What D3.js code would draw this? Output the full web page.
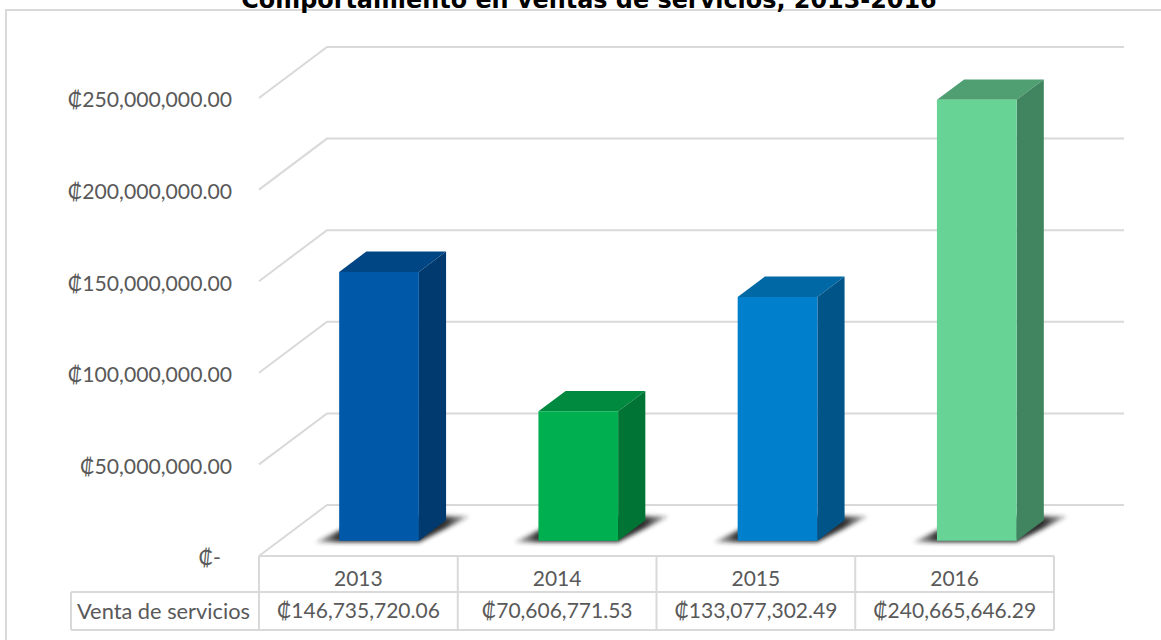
<!DOCTYPE html>
<html>
<head>
<meta charset="utf-8">
<script src="https://cdn.jsdelivr.net/npm/d3@7"></script>
<style>
  body { margin: 0; background: #fff; }
  svg { display: block; }
  text { font-family: Lato, "Noto Sans", sans-serif; fill: #595959; }
</style>
</head>
<body>
<svg width="1161" height="640"></svg>
<script>
const years = ['2013', '2014', '2015', '2016']
const sales = [146735720.06, 70606771.53, 133077302.49, 240665646.29]
const yTicks = [0, 50000000, 100000000, 150000000, 200000000, 250000000]
const seriesName = 'Venta de servicios'
const title = 'Comportamiento en ventas de servicios, 2013-2016'

const frontColors = ['#0058a9', '#00b050', '#0080cc', '#67d495']
const sideColors = ['#003a6e', '#007434', '#005487', '#418560']
const topColors = ['#004685', '#008a3f', '#0068a5', '#4f9f72']

const width = 1161
const height = 640
const gridColor = '#d9d9d9'

// depth of the 3d floor, in px
const depth = { x: 68, y: 51 }
const barDepth = { from: 0.3, to: 0.7 }

const xScale = d3.scaleBand()
  .domain(years)
  .range([259, 1056])
  .paddingInner(0.6)
  .paddingOuter(0.3)

const yScale = d3.scaleLinear()
  .domain([0, 250000000])
  .range([556, 98])

// table columns use the whole band
const colScale = d3.scaleBand()
  .domain(years)
  .range([259, 1054])

// x in px at the front, value on y, z from 0 (front) to 1 (back)
const project = (x, value, z) => [x + depth.x * z, yScale(value) - depth.y * z]

const svg = d3.select('svg')
const line = d3.line()

const defs = svg.append('defs')
defs.append('filter')
  .attr('id', 'soft')
  .attr('x', '-20%').attr('y', '-40%')
  .attr('width', '140%').attr('height', '180%')
  .append('feGaussianBlur')
  .attr('stdDeviation', 2.2)

// shadow fades out towards both tips
const shade = defs.append('linearGradient')
  .attr('id', 'shade')
shade.selectAll('stop')
  .data([[0, 0.25], [0.16, 0.95], [0.84, 0.95], [1, 0.25]])
  .enter().append('stop')
  .attr('offset', d => d[0])
  .attr('stop-color', '#222')
  .attr('stop-opacity', d => d[1])

// chart frame, no right or bottom side in the picture
svg.append('path')
  .attr('d', line([[6, height], [6, 10], [width, 10]]))
  .attr('fill', 'none')
  .attr('stroke', gridColor)
  .attr('stroke-width', 2)

svg.append('text')
  .attr('x', 589)
  .attr('y', 8)
  .attr('text-anchor', 'middle')
  .style('font-family', '"DejaVu Sans"')
  .style('font-weight', 'bold')
  .style('font-size', '23.9px')
  .style('fill', '#000')
  .text(title)

// gridlines go from the front left, up the side wall, then along the back
svg.append('g')
  .selectAll('path')
  .data(yTicks)
  .enter().append('path')
  .attr('d', d => line([
    project(259, d, 0),
    project(259, d, 1),
    project(1056, d, 1)
  ]))
  .attr('fill', 'none')
  .attr('stroke', gridColor)
  .attr('stroke-width', 2)

const yAxis = d3.axisLeft(yScale)
  .tickValues(yTicks)
  .tickSize(0)
  .tickPadding(0)
  .tickFormat(d => d === 0 ? '₡-' : '₡' + d3.format(',.2f')(d))

const yAxisG = svg.append('g')
  .attr('transform', 'translate(232,0)')
  .call(yAxis)

yAxisG.select('.domain').remove()
yAxisG.selectAll('text')
  .attr('dy', '0.42em')
  .style('font-family', 'Lato, "Noto Sans", sans-serif')
  .style('font-size', '21.2px')
  .style('fill', '#595959')
yAxisG.selectAll('.tick')
  .filter(d => d === 0)
  .select('text')
  .attr('dx', -11)

// bars
const bars = svg.append('g')
  .selectAll('g')
  .data(years.map((year, i) => ({ year, value: sales[i], i })))
  .enter().append('g')

const edges = d => {
  const x0 = xScale(d.year)
  return { x0, x1: x0 + xScale.bandwidth() }
}

bars.append('path')
  .attr('d', d => {
    const { x0, x1 } = edges(d)
    return line([
      project(x0 - 22, 0, barDepth.from - 0.03),
      project(x1 + 2, 0, barDepth.from - 0.03),
      project(x1 + 18, 0, barDepth.to + 0.08),
      project(x0 - 3, 0, barDepth.to + 0.08)
    ]) + 'Z'
  })
  .attr('fill', 'url(#shade)')
  .attr('filter', 'url(#soft)')

bars.append('path')
  .attr('d', d => {
    const { x0, x1 } = edges(d)
    return line([
      project(x0, d.value, barDepth.from),
      project(x1, d.value, barDepth.from),
      project(x1, d.value, barDepth.to),
      project(x0, d.value, barDepth.to)
    ]) + 'Z'
  })
  .attr('fill', d => topColors[d.i])

bars.append('path')
  .attr('d', d => {
    const { x1 } = edges(d)
    return line([
      project(x1, 0, barDepth.from),
      project(x1, 0, barDepth.to),
      project(x1, d.value, barDepth.to),
      project(x1, d.value, barDepth.from)
    ]) + 'Z'
  })
  .attr('fill', d => sideColors[d.i])

bars.append('path')
  .attr('d', d => {
    const { x0, x1 } = edges(d)
    return line([
      project(x0, 0, barDepth.from),
      project(x1, 0, barDepth.from),
      project(x1, d.value, barDepth.from),
      project(x0, d.value, barDepth.from)
    ]) + 'Z'
  })
  .attr('fill', d => frontColors[d.i])

// data table under the chart
const tableTop = yScale(0)
const rowLine = 592
const tableBottom = 630
const tableLeft = 71

const table = svg.append('g')
  .attr('stroke', gridColor)
  .attr('stroke-width', 2)
  .attr('fill', 'none')

table.append('path')
  .attr('d', line([[259, tableTop], [1054, tableTop]]))
table.append('path')
  .attr('d', line([[tableLeft, rowLine], [1054, rowLine]]))
table.append('path')
  .attr('d', line([[tableLeft, tableBottom], [1054, tableBottom]]))
table.append('path')
  .attr('d', line([[tableLeft, rowLine], [tableLeft, tableBottom]]))

table.selectAll('.col')
  .data(years.concat('end'))
  .enter().append('path')
  .attr('class', 'col')
  .attr('d', d => {
    const x = d === 'end' ? colScale.range()[1] : colScale(d)
    return line([[x, tableTop], [x, tableBottom]])
  })

svg.append('g')
  .selectAll('text')
  .data(years)
  .enter().append('text')
  .attr('x', d => colScale(d) + colScale.bandwidth() / 2)
  .attr('y', 579)
  .attr('dy', '0.35em')
  .attr('text-anchor', 'middle')
  .style('font-size', '21px')
  .text(d => d)

svg.append('g')
  .selectAll('text')
  .data(sales)
  .enter().append('text')
  .attr('x', (d, i) => colScale(years[i]) + colScale.bandwidth() / 2)
  .attr('y', 611)
  .attr('dy', '0.35em')
  .attr('text-anchor', 'middle')
  .style('font-size', '21px')
  .text(d => '₡' + d3.format(',.2f')(d))

svg.append('text')
  .attr('x', 77)
  .attr('y', 611)
  .attr('dy', '0.35em')
  .style('font-size', '21.8px')
  .text(seriesName)
</script>
</body>
</html>
